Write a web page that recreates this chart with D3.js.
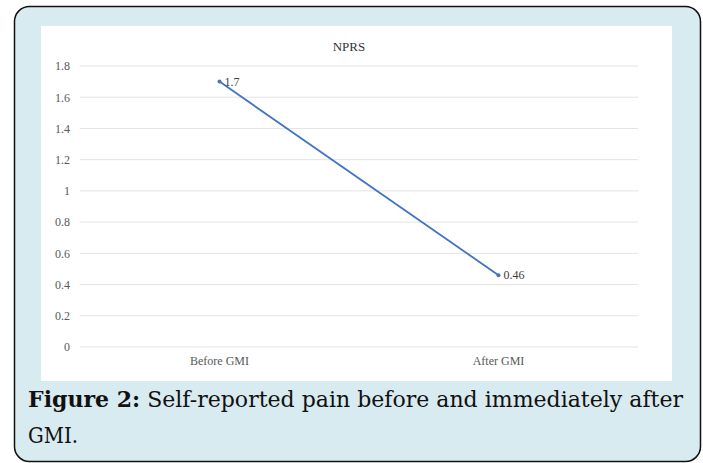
<!DOCTYPE html>
<html>
<head>
<meta charset="utf-8">
<script src="https://cdn.jsdelivr.net/npm/d3@7"></script>
<style>
  body { margin: 0; background: #fff; }
  svg { display: block; }
</style>
</head>
<body>
<div id="chart"></div>
<script>
// Data
const categories = ["Before GMI", "After GMI"];
const values = [1.7, 0.46];
const yTicks = [0, 0.2, 0.4, 0.6, 0.8, 1, 1.2, 1.4, 1.6, 1.8];
const chartTitle = "NPRS";
const captionBold = "Figure 2:";
const captionLine1 = " Self-reported pain before and immediately after";
const captionLine2 = "GMI.";

// Styling
const W = 703, H = 463;
const cardFill = "#d8ebf0";
const lineColour = "#4472c4";
const gridColour = "#e3e3e3";
const labelColour = "#595959";
const chartFont = "'Liberation Serif', 'Times New Roman', serif";
const captionFont = "'DejaVu Serif', 'Liberation Serif', serif";

const svg = d3.select("#chart").append("svg")
  .attr("width", W)
  .attr("height", H);

// Card background
svg.append("rect")
  .attr("x", 14.5).attr("y", 6.5)
  .attr("width", 686).attr("height", 455)
  .attr("rx", 15).attr("ry", 15)
  .attr("fill", cardFill)
  .attr("stroke", "#111")
  .attr("stroke-width", 1.5);

// White chart area
svg.append("rect")
  .attr("x", 41).attr("y", 26)
  .attr("width", 631).attr("height", 355)
  .attr("fill", "#fff");

// Scales
const xScale = d3.scaleBand()
  .domain(categories)
  .range([80, 638]);

const yScale = d3.scaleLinear()
  .domain([0, 1.8])
  .range([347, 66]);

// Gridlines
svg.append("g")
  .selectAll("line")
  .data(yTicks)
  .join("line")
  .attr("x1", 80)
  .attr("x2", 638)
  .attr("y1", d => yScale(d))
  .attr("y2", d => yScale(d))
  .attr("stroke", gridColour)
  .attr("stroke-width", 1);

// Y axis labels
const yAxis = d3.axisLeft(yScale).tickValues(yTicks).tickSize(0).tickPadding(10).tickFormat(d3.format("~g"));
svg.append("g")
  .attr("transform", "translate(80,0)")
  .call(yAxis)
  .call(g => g.select(".domain").remove())
  .selectAll("text")
  .attr("font-family", chartFont)
  .attr("font-size", 12)
  .attr("fill", labelColour);

// X axis labels
const xAxis = d3.axisBottom(xScale).tickSize(0).tickPadding(9);
svg.append("g")
  .attr("transform", "translate(0,347)")
  .call(xAxis)
  .call(g => g.select(".domain").remove())
  .selectAll("text")
  .attr("font-family", chartFont)
  .attr("font-size", 12)
  .attr("fill", labelColour);

// Title
svg.append("text")
  .attr("x", 349)
  .attr("y", 51)
  .attr("text-anchor", "middle")
  .attr("font-family", chartFont)
  .attr("font-size", 13)
  .attr("fill", "#333")
  .text(chartTitle);

// Line
const points = categories.map((c, i) => ({ cat: c, value: values[i] }));
const line = d3.line()
  .x(d => xScale(d.cat) + xScale.bandwidth() / 2)
  .y(d => yScale(d.value));

svg.append("path")
  .datum(points)
  .attr("d", line)
  .attr("fill", "none")
  .attr("stroke", lineColour)
  .attr("stroke-width", 1.8);

svg.selectAll(".pt")
  .data(points)
  .join("circle")
  .attr("class", "pt")
  .attr("cx", d => xScale(d.cat) + xScale.bandwidth() / 2)
  .attr("cy", d => yScale(d.value))
  .attr("r", 2)
  .attr("fill", lineColour);

// Data labels
svg.selectAll(".dl")
  .data(points)
  .join("text")
  .attr("class", "dl")
  .attr("x", d => xScale(d.cat) + xScale.bandwidth() / 2 + 5)
  .attr("y", d => yScale(d.value) + 4)
  .attr("font-family", chartFont)
  .attr("font-size", 12)
  .attr("fill", "#404040")
  .text(d => d.value);

// Caption
const cap1 = svg.append("text")
  .attr("x", 28)
  .attr("y", 407)
  .attr("font-family", captionFont)
  .attr("font-size", 22)
  .attr("fill", "#111");
cap1.append("tspan").attr("font-weight", "bold").text(captionBold);
cap1.append("tspan").text(captionLine1);
cap1.attr("textLength", 655).attr("lengthAdjust", "spacingAndGlyphs");

svg.append("text")
  .attr("x", 28)
  .attr("y", 443)
  .attr("font-family", captionFont)
  .attr("font-size", 22)
  .attr("fill", "#111")
  .attr("textLength", 50)
  .attr("lengthAdjust", "spacingAndGlyphs")
  .text(captionLine2);
</script>
</body>
</html>
